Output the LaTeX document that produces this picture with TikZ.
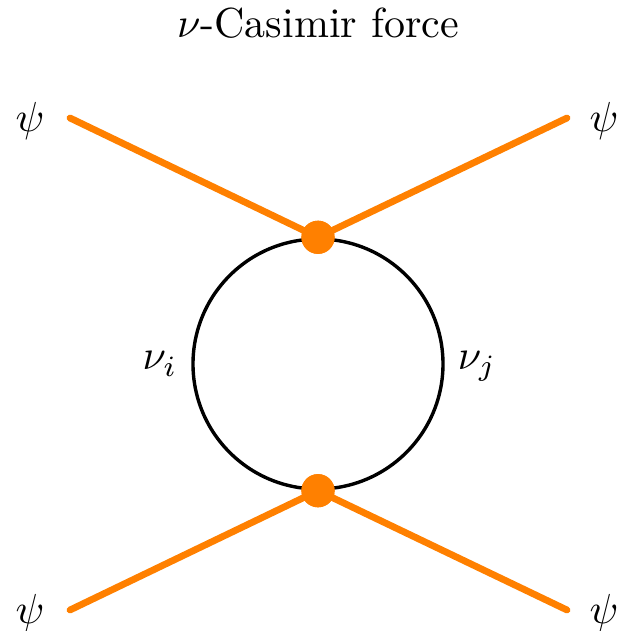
\documentclass[tikz,border=0pt]{standalone}
\begin{document}
\begin{tikzpicture}[x=0.25pt,y=-0.25pt,
  leg/.style={draw=orange,line width=1.7pt,line cap=round},
  vtx/.style={circle,fill=orange,inner sep=0pt,minimum size=8.3pt},
  loopc/.style={circle,draw=black,line width=0.85pt,inner sep=0pt,minimum size=62.5pt},
  lbl/.style={inner sep=0pt,scale=1.05}]
\useasboundingbox (0,0) rectangle (621,631);
\node[lbl,anchor=base] (title) at (318,38) {$\nu$-Casimir force};
\node[loopc] (loop) at (318,364) {};
\node[vtx] (top) at (loop.north) {};
\node[vtx] (bot) at (loop.south) {};
\coordinate (a) at (70,118);
\coordinate (b) at (567,118);
\coordinate (c) at (70,610);
\coordinate (d) at (567,610);
\draw[leg] (a) -- (top.center);
\draw[leg] (b) -- (top.center);
\draw[leg] (c) -- (bot.center);
\draw[leg] (d) -- (bot.center);
\node[vtx] at (loop.north) {};
\node[vtx] at (loop.south) {};
\node[lbl] (p1) at (30,121) {$\psi$};
\node[lbl] (p2) at (604,121) {$\psi$};
\node[lbl] (p3) at (30,613) {$\psi$};
\node[lbl] (p4) at (604,613) {$\psi$};
\node[lbl] (ni) at (160,364) {$\nu_i$};
\node[lbl] (nj) at (477,366) {$\nu_j$};
\end{tikzpicture}
\end{document}
